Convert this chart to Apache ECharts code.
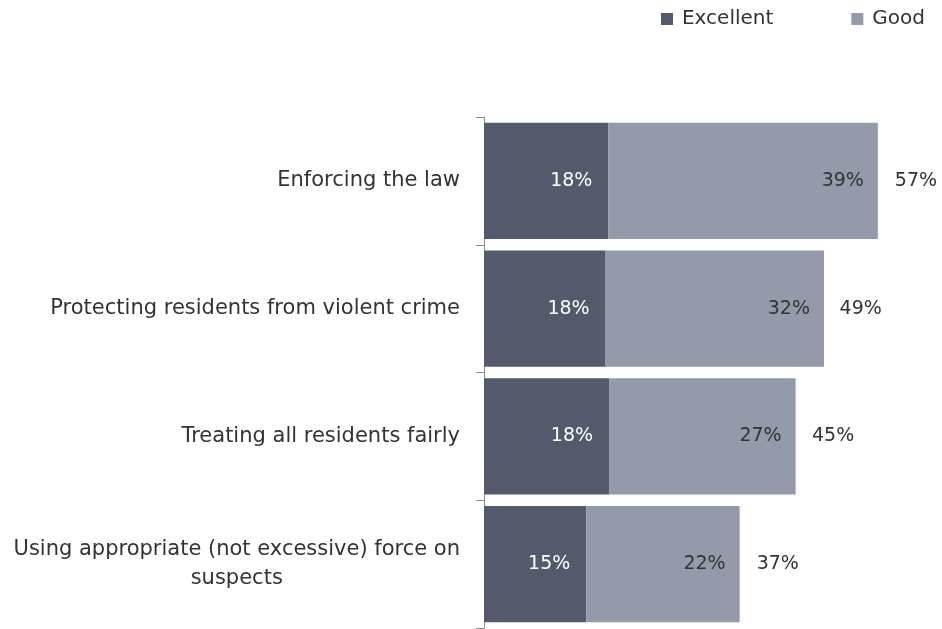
<!DOCTYPE html>
<html><head><meta charset="utf-8">
<script src="https://cdn.jsdelivr.net/npm/echarts@6/dist/echarts.min.js"></script>
<style>html,body{margin:0;padding:0;background:#fff}#c{width:942px;height:629px}</style>
</head><body><div id="c"></div>
<script>
var categories = ['Enforcing the law', 'Protecting residents from violent crime', 'Treating all residents fairly', 'Using appropriate (not excessive) force on suspects'];
var excellent = [18, 17.6, 18.1, 14.8];
var good = [39, 31.6, 27, 22.2];
var totals = [57, 49, 45, 37];

var chart = echarts.init(document.getElementById('c'));
var font = 'DejaVu Sans';
chart.setOption({
  animation: false,
  textStyle: {fontFamily: font},
  legend: {
    data: ['Excellent', 'Good'], right: 12, top: 4, itemWidth: 12, itemHeight: 12, itemGap: 78,
    icon: 'rect', textStyle: {fontSize: 20, color: '#333', fontFamily: font, padding: [0, 0, 0, 4]}
  },
  grid: {left: 484, top: 117, bottom: 1, width: 414.6},
  xAxis: {type: 'value', min: 0, max: 60, show: false},
  yAxis: {
    type: 'category', data: categories, inverse: true,
    axisLine: {show: true, lineStyle: {color: '#888'}},
    axisTick: {show: true, length: 8, lineStyle: {color: '#888'}},
    axisLabel: {
      margin: 24, fontSize: 21, color: '#333', fontFamily: font, lineHeight: 29,
      formatter: function (v) {
        if (v.indexOf('force on') > -1) return '{c|Using appropriate (not excessive) force on}\n{c|suspects}';
        return v;
      },
      rich: {c: {align: 'center', fontSize: 21, color: '#333', fontFamily: font, lineHeight: 29}}
    }
  },
  series: [
    {name: 'Excellent', type: 'bar', stack: 's', data: excellent, barCategoryGap: '9%',
     itemStyle: {color: '#545a6b'},
     label: {show: true, position: 'insideRight', distance: 16, color: '#fff', fontSize: 19, fontFamily: font,
       formatter: function (p) { return Math.round(p.value) + '%'; }}},
    {name: 'Good', type: 'bar', stack: 's', data: good,
     itemStyle: {color: '#959aaa'},
     label: {show: true, position: 'insideRight', distance: 14, color: '#333', fontSize: 19, fontFamily: font,
       formatter: function (p) { return Math.round(p.value) + '%'; }}},
    {name: 'Total', type: 'bar', data: totals, barGap: '-100%', z: 0,
     itemStyle: {color: 'rgba(0,0,0,0)'},
     label: {show: true, position: 'right', distance: 17, color: '#333', fontSize: 19, fontFamily: font,
       formatter: function (p) { return p.value + '%'; }}}
  ]
});
</script></body></html>
